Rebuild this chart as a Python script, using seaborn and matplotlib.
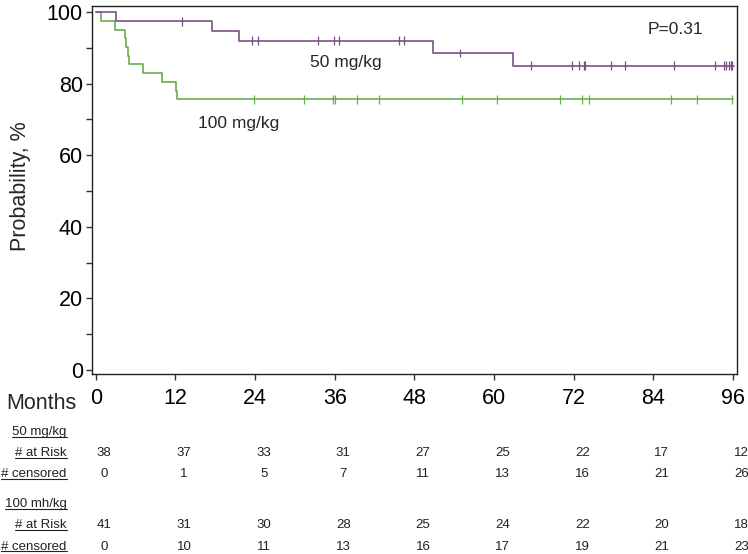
import numpy as np
import pandas as pd
import matplotlib
matplotlib.use("Agg")
import matplotlib.pyplot as plt
import matplotlib.transforms as mtransforms
from matplotlib.ticker import MultipleLocator
from matplotlib.lines import Line2D
import seaborn as sns

# Step curves (months, survival %)
t_50 = [0, 3.1, 17.5, 21.5, 50.8, 62.9, 96.1]
s_50 = [100, 97.4, 94.7, 92.0, 88.6, 85.0, 85.0]
t_100 = [0, 0.8, 2.9, 4.4, 4.6, 4.8, 5.0, 7.1, 9.9, 12.1, 12.3, 96.0]
s_100 = [100, 97.6, 95.1, 92.7, 90.2, 87.8, 85.4, 82.9, 80.5, 78.0, 75.6, 75.6]

# censor marks (months)
cens_t_50 = [13.0, 23.6, 24.5, 33.4, 35.9, 36.6, 45.7, 46.4, 54.9, 65.5, 71.8, 72.8,
             73.5, 73.7, 77.6, 79.7, 87.1, 93.3, 94.6, 95.0, 95.4, 95.7, 95.9]
cens_t_100 = [23.8, 31.3, 35.8, 36.1, 39.3, 42.7, 55.2, 60.4, 69.9, 73.3, 74.3,
              86.7, 90.6, 95.9]

# risk table
months = [0, 12, 24, 36, 48, 60, 72, 84, 96]
risk_50 = [38, 37, 33, 31, 27, 25, 22, 17, 12]
censored_50 = [0, 1, 5, 7, 11, 13, 16, 21, 26]
risk_100 = [41, 31, 30, 28, 25, 24, 22, 20, 18]
censored_100 = [0, 10, 11, 13, 16, 17, 19, 21, 23]

PURPLE = "#7a4f88"
GREEN = "#6aae4a"


def level_at(t_steps, s_steps, times):
    idx = np.searchsorted(t_steps, times, side="right") - 1
    return [s_steps[i] for i in idx]


sns.set_style("ticks")
plt.rcParams["font.family"] = ["Liberation Sans", "DejaVu Sans"]

W, H = 748, 554
fig = plt.figure(figsize=(W / 100, H / 100), dpi=100)
ax = fig.add_axes([91.5 / W, 1 - 374 / H, (737 - 91.5) / W, (374 - 6) / H])

curves = pd.concat([
    pd.DataFrame({"month": t_100, "surv": s_100, "group": "100 mg/kg"}),
    pd.DataFrame({"month": t_50, "surv": s_50, "group": "50 mg/kg"}),
])
sns.lineplot(data=curves, x="month", y="surv", hue="group",
             palette={"50 mg/kg": PURPLE, "100 mg/kg": GREEN},
             estimator=None, sort=False, drawstyle="steps-post",
             linewidth=1.2, legend=False, ax=ax)

cens = pd.concat([
    pd.DataFrame({"month": cens_t_100, "surv": level_at(t_100, s_100, cens_t_100),
                  "group": "100 mg/kg"}),
    pd.DataFrame({"month": cens_t_50, "surv": level_at(t_50, s_50, cens_t_50),
                  "group": "50 mg/kg"}),
])
sns.scatterplot(data=cens, x="month", y="surv", hue="group",
                palette={"50 mg/kg": PURPLE, "100 mg/kg": GREEN},
                marker="|", s=40, linewidth=0.9, legend=False, ax=ax)

ax.set_xlim(-0.65, 96.6)
ax.set_ylim(-1.1, 101.7)
ax.set_xticks(months)
ax.set_yticks(range(0, 101, 20))
ax.yaxis.set_minor_locator(MultipleLocator(10))
ax.tick_params(axis="both", which="both", direction="out", length=4.3, width=1,
               color="#333333", labelsize=15.5, labelcolor="black")
ax.tick_params(axis="x", pad=6)
ax.tick_params(axis="y", pad=2)
for sp in ax.spines.values():
    sp.set_visible(True)
    sp.set_color("#222222")
    sp.set_linewidth(1.0)

ax.set_xlabel("")
ax.set_ylabel("Probability, %", fontsize=15.5)
ax.yaxis.set_label_coords(-0.094, 0.51)

ax.text(37.7, 85.8, "50 mg/kg", fontsize=12.5, ha="center", va="center")
ax.text(21.5, 69.0, "100 mg/kg", fontsize=12.5, ha="center", va="center")
ax.text(87.4, 95.0, "P=0.31", fontsize=12.5, ha="center", va="center")

fig.text(76 / W, 1 - 409 / H, "Months", fontsize=15.5, ha="right", va="baseline")

# risk table below the axis
blend = mtransforms.blended_transform_factory(ax.transData, fig.transFigure)
num_tr = mtransforms.offset_copy(blend, fig=fig, x=8.5, units="dots")
rows = [
    ("50 mg/kg", None, 435),
    ("# at Risk", risk_50, 456),
    ("# censored", censored_50, 477),
    ("100 mh/kg", None, 507),
    ("# at Risk", risk_100, 528.5),
    ("# censored", censored_100, 549.5),
]
labels = []
for label, vals, ypx in rows:
    yf = 1 - ypx / H
    labels.append(fig.text(66.7 / W, yf, label, fontsize=9.5, ha="right",
                           va="baseline", color="#222222"))
    if vals is not None:
        for m, v in zip(months, vals):
            ax.text(m, yf, str(v), transform=num_tr, fontsize=9.5, ha="center",
                    va="baseline", color="#222222", clip_on=False)

fig.canvas.draw()
renderer = fig.canvas.get_renderer()
for txt in labels:
    bb = txt.get_window_extent(renderer)
    x0, x1 = bb.x0 / W, bb.x1 / W
    yb = txt.get_position()[1] - 1.5 / H
    fig.add_artist(Line2D([x0, x1], [yb, yb], transform=fig.transFigure,
                          color="#222222", linewidth=0.8))

fig.savefig("out.png", dpi=100)
